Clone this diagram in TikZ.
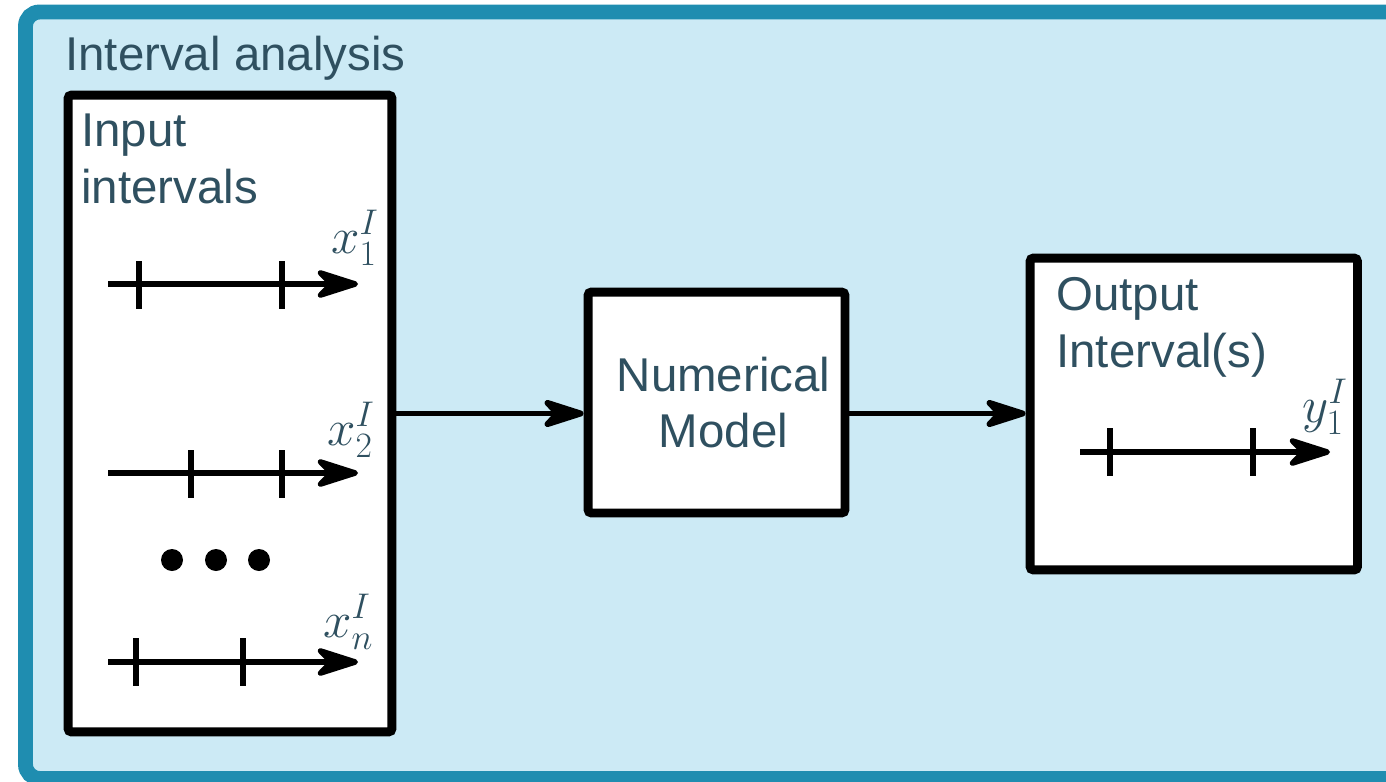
\documentclass[tikz,border=0pt]{standalone}
\RequirePackage{fix-cm}
\usepackage[no-math]{fontspec}
\setmainfont{Liberation Sans}
\usetikzlibrary{arrows.meta,positioning}

\definecolor{framecol}{RGB}{31,141,176}
\definecolor{bgfill}{RGB}{204,234,245}
\definecolor{txtcol}{RGB}{47,80,96}

\begin{document}
\begin{tikzpicture}[x=0.02cm, y=-0.02cm,
    blk/.style={draw, line width=5.1pt, fill=white, rounded corners=2pt, inner sep=0pt},
    txt/.style={text=txtcol, font=\fontsize{27}{32}\selectfont, inner sep=0pt},
    mth/.style={text=txtcol, font=\fontsize{29}{32}\selectfont, inner sep=0pt},
    conn/.style={line width=3.4pt, -{Stealth[length=30pt, width=19pt, inset=9pt, round]}},
    ival/.style={line width=3.1pt, -{Stealth[length=30pt, width=19pt, inset=9pt, round]}},
    tick/.style={line width=3.5pt}]
    \useasboundingbox (0,0) rectangle (1386,781);
    % frame
    \draw[draw=framecol, fill=bgfill, line width=8.5pt, rounded corners=8pt] (25.5,12) rectangle (1410,778.5);
    \node[txt, anchor=base west] (title) at (65,70) {Interval analysis};
    % boxes
    \node[blk, minimum width=6.48cm, minimum height=12.74cm] (inbox) at (230,413.5) {};
    \node[blk, minimum width=5.14cm, minimum height=4.42cm] (model) at (716.5,402.5) {};
    \node[blk, minimum width=6.55cm, minimum height=6.24cm] (outbox) at (1193.75,414) {};
    \node[txt, anchor=base west, align=left] (intxt) at (81,203) {Input\\intervals};
    \node[txt, align=center] (modtxt) at ([xshift=4]model.center) {Numerical\\Model};
    \node[txt, anchor=base west, align=left] (outtxt) at (1056,367) {Output\\Interval(s)};
    % connectors
    \draw[conn] (inbox.east) -- (inbox.east -| model.west);
    \draw[conn] (model.east |- inbox.east) -- (inbox.east -| outbox.west);
    % input intervals
    \draw[ival] (108,284) -- (358,284);
    \draw[tick] (139,261) -- (139,309);
    \draw[tick] (282,261) -- (282,309);
    \node[mth, anchor=base west] (x1) at (331,253) {$x_1^I$};
    \draw[ival] (108,473) -- (358,473);
    \draw[tick] (191,450) -- (191,498);
    \draw[tick] (282,450) -- (282,498);
    \node[mth, anchor=base west] (x2) at (327,445) {$x_2^I$};
    \foreach \dx in {172,216,259}
      \fill (\dx,560) circle (11);
    \draw[ival] (108,662) -- (358,662);
    \draw[tick] (136,638) -- (136,686);
    \draw[tick] (243,638) -- (243,686);
    \node[mth, anchor=base west] (xn) at (323,637) {$x_n^I$};
    % output interval
    \draw[ival] (1080,452) -- (1330,452);
    \draw[tick] (1110,428) -- (1110,476);
    \draw[tick] (1253,428) -- (1253,476);
    \node[mth, anchor=base west] (y1) at (1302,422) {$y_1^I$};
\end{tikzpicture}
\end{document}
